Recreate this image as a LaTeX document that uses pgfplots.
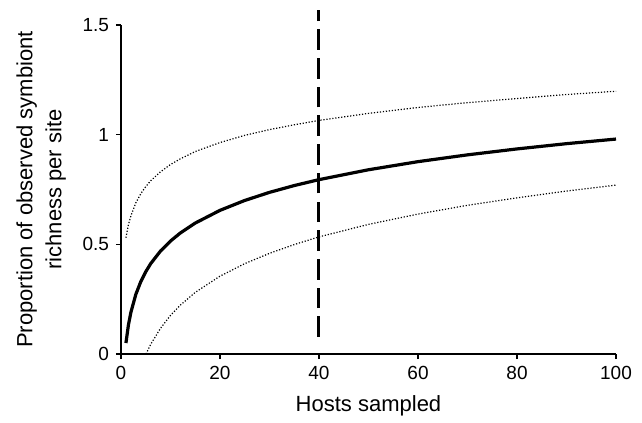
\documentclass[border=0pt]{standalone}
\usepackage{pgfplots}
\usepackage{fontspec}
\setmainfont{Liberation Sans}
\pgfplotsset{compat=1.18}

\begin{document}
\begin{tikzpicture}
\begin{axis}[
    scale only axis,
    width=247.5pt, height=164.5pt,
    xmin=0, xmax=100, ymin=0, ymax=1.5,
    axis x line=bottom, axis y line=left,
    axis line style={-, line width=0.9pt},
    xtick={0,20,40,60,80,100},
    ytick={0,0.5,1,1.5},
    yticklabels={0,0.5,1,1.5},
    tick align=outside,
    major tick length=2.5pt,
    tick style={line width=0.8pt, black},
    ticklabel style={font=\fontsize{9.5}{11}\selectfont},
    /pgf/number format/assume math mode=true,
    xlabel={Hosts sampled},
    ylabel={Proportion of observed symbiont\\richness per site},
    label style={font=\fontsize{11}{14.5}\selectfont},
    ylabel style={align=center, at={(axis description cs:-0.161,0.5)}, anchor=center},
    xlabel style={at={(axis description cs:0.5,-0.158)}, anchor=center},
    clip=false,
]
% invisible frame matching the reference's margins
\path[draw=none] (rel axis cs:-0.2444,-0.1976) rectangle (rel axis cs:1.0525,1.076);

% mean curve
\addplot[black, line width=1.6pt] coordinates {
(1,0.05) (1.5,0.132) (2,0.19) (3,0.272) (4,0.33) (5,0.375) (6,0.412)
(8,0.47) (10,0.515) (12,0.552) (15,0.597) (20,0.655) (25,0.70)
(30,0.737) (35,0.768) (40,0.795) (50,0.84) (60,0.877) (70,0.908)
(80,0.935) (90,0.959) (100,0.98)};

% upper bound
\addplot[black, line width=0.6pt, dash pattern=on 0.6pt off 0.9pt] coordinates {
(1,0.53) (1.5,0.589) (2,0.63) (3,0.689) (4,0.731) (5,0.763) (6,0.79)
(8,0.831) (10,0.864) (12,0.89) (15,0.923) (20,0.964) (25,0.997)
(30,1.023) (35,1.045) (40,1.065) (50,1.097) (60,1.124) (70,1.146)
(80,1.165) (90,1.183) (100,1.198)};

% lower bound
\addplot[black, line width=0.6pt, dash pattern=on 0.6pt off 0.9pt] coordinates {
(5.05,0) (6,0.044) (8,0.118) (10,0.176) (12,0.223) (15,0.281)
(20,0.355) (25,0.412) (30,0.459) (35,0.499) (40,0.534) (50,0.591)
(60,0.638) (70,0.678) (80,0.712) (90,0.743) (100,0.77)};

% reference line at 40 hosts
\addplot[black, line width=1.5pt, dash pattern=on 10.25pt off 4.1pt] coordinates {
(40,0.078) (40,1.568)};
\end{axis}
\end{tikzpicture}
\end{document}
